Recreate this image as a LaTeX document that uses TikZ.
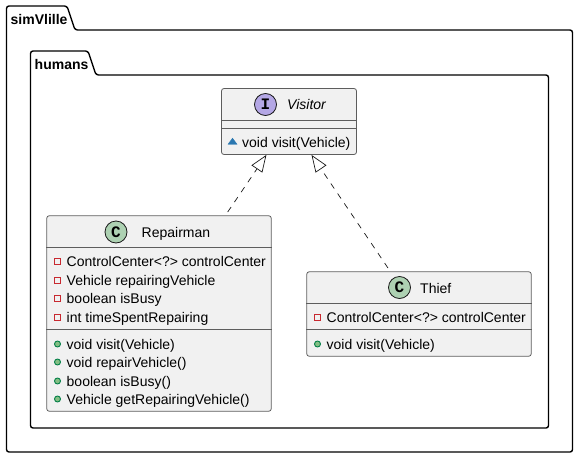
\documentclass[tikz,border=0pt]{standalone}
\usepackage{fontspec}
\setmainfont{Liberation Sans}
\newfontfamily\glyphfont{Liberation Mono}
\usetikzlibrary{arrows.meta,shapes.geometric}
\definecolor{myfill}{HTML}{F1F1F1}
\definecolor{myline}{HTML}{181818}
\definecolor{myviolet}{HTML}{B4A7E5}
\definecolor{mygreen}{HTML}{ADD1B2}
\definecolor{myred}{HTML}{C82930}
\definecolor{mypub}{HTML}{84BE84}
\definecolor{mypubline}{HTML}{038048}
\definecolor{myblue}{HTML}{2A77B0}

\begin{document}
\begin{tikzpicture}[x=1pt,y=-1pt,
  font=\fontsize{14}{16}\selectfont,
  package/.style={draw=black,line width=1.4pt,rounded corners=2.5pt},
  packlabel/.style={font=\fontsize{14}{16}\selectfont\bfseries,anchor=base west,inner sep=0pt},
  classnode/.style={draw=myline!70,line width=.8pt,fill=myfill,rounded corners=2.5pt,inner sep=0pt},
  sepline/.style={draw=myline!70,line width=.8pt},
  badge/.style={circle,draw=myline,line width=.8pt,minimum size=22pt,inner sep=0pt,
    font=\fontsize{16}{18}\selectfont\glyphfont\bfseries},
  member/.style={anchor=base west,inner sep=0pt,text=black},
  private/.style={draw=myred,line width=.9pt,minimum size=6pt,inner sep=0pt},
  public/.style={circle,draw=mypubline,fill=mypub,line width=.9pt,minimum size=6pt,inner sep=0pt},
  realize/.style={dashed,dash pattern=on 6pt off 6pt,dash phase=8pt,line width=.7pt,draw=myline,
    -{Triangle[open,length=17pt,width=13pt,line width=.7pt]}}
]
\useasboundingbox (0,0) rectangle (578,458);

% the packages
\draw[package] (6.5,30) -- (6.5,6) -- (67,6) -- (75,30) -- (572.5,30) -- (572.5,452) -- (6.5,452) -- cycle;
\node[packlabel] (simvlille) at (10.5,24) {simVlille};
\draw[package] (30.5,75) -- (30.5,51) -- (88,51) -- (96,75) -- (548.5,75) -- (548.5,428) -- (30.5,428) -- cycle;
\node[packlabel] (humans) at (34.5,69) {humans};

% the classes
\node[classnode,minimum width=135pt,minimum height=66pt] (visitor) at (289,121.5) {};
\node[classnode,minimum width=224.5pt,minimum height=195.5pt] (repairman) at (159,313.5) {};
\node[classnode,minimum width=224.5pt,minimum height=84.5pt] (thief) at (419,314) {};

\draw[sepline] (visitor.west |- 0,120.5) -- (visitor.east |- 0,120.5);
\draw[sepline] (visitor.west |- 0,128.5) -- (visitor.east |- 0,128.5);
\draw[sepline] (repairman.west |- 0,247.5) -- (repairman.east |- 0,247.5);
\draw[sepline] (repairman.west |- 0,329.5) -- (repairman.east |- 0,329.5);
\draw[sepline] (thief.west |- 0,303.5) -- (thief.east |- 0,303.5);
\draw[sepline] (thief.west |- 0,329.5) -- (thief.east |- 0,329.5);

% the headers
\node[badge,fill=myviolet] (visitoricon) at (265.5,104.5) {I};
\node[member,font=\fontsize{14}{16}\selectfont\itshape] (visitorname) at (287,109.5) {Visitor};
\node[badge,fill=mygreen] (repairmanicon) at (116,232) {C};
\node[member] (repairmanname) at (141.5,237) {Repairman};
\node[badge,fill=mygreen] (thiefIcon) at (399.5,287.5) {C};
\node[member] (thiefname) at (420,293) {Thief};

% the members
\node[isosceles triangle,isosceles triangle stretches,shape border rotate=90,draw=myblue,fill=myblue,
  minimum width=9pt,minimum height=6pt,inner sep=0pt] (visitoropen) at (232.5,142) {};
\node[member] (visitorvisit) at (242,147.5) {void visit(Vehicle)};

\foreach \i/\y/\txt in {1/266/ControlCenter<?> controlCenter,2/285/Vehicle repairingVehicle,
    3/303/boolean isBusy,4/322/int timeSpentRepairing} {
  \node[private] (rpriv\i) at (57.5,\y-5) {};
  \node[member] (rfield\i) at (66.5,\y) {\txt};
}
\foreach \i/\y/\txt in {1/349/void visit(Vehicle),2/367/void repairVehicle(),
    3/386/boolean isBusy(),4/404/Vehicle getRepairingVehicle()} {
  \node[public] (rpub\i) at (57.5,\y-5) {};
  \node[member] (rmethod\i) at (66.5,\y) {\txt};
}
\node[private] (tpriv1) at (317.5,317) {};
\node[member] (tfield1) at (326.5,322) {ControlCenter<?> controlCenter};
\node[public] (tpub1) at (317.5,344) {};
\node[member] (tmethod1) at (326.5,349) {void visit(Vehicle)};

% the edges
\draw[realize] (repairman) -- (visitor);
\draw[realize] (thief) -- (visitor);
\end{tikzpicture}
\end{document}
